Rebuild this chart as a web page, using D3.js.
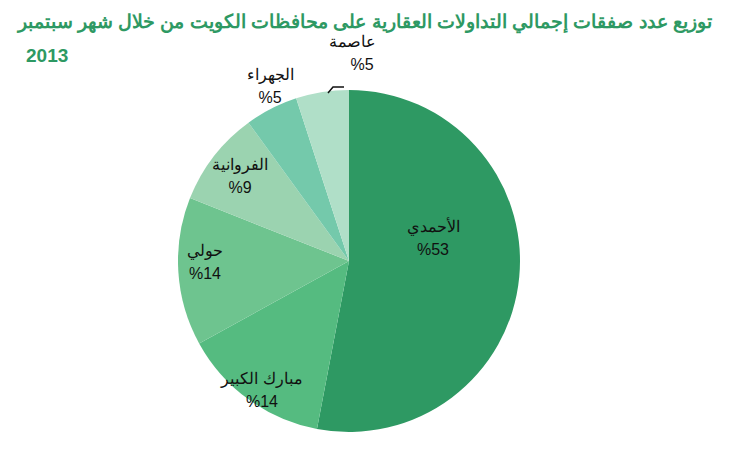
<!DOCTYPE html>
<html><head><meta charset="utf-8">
<script src="https://cdn.jsdelivr.net/npm/d3@7"></script>
<style>body{margin:0;background:#fff}</style></head>
<body><svg id="c" width="730" height="450"></svg>
<script>
const categories = ["الأحمدي","مبارك الكبير","حولي","الفروانية","الجهراء","عاصمة"];
const values = [53,14,14,9,5,5];
const colors = ["#2e9963","#55bb80","#6ec48f","#9bd3b0","#74c9ab","#b0dfc8"];
const labelPos = [[433,232],[262,384],[205,256],[240,170],[270,80],[352,47]];

const svg = d3.select("#c");
const cx=349, cy=261, r=171;
const pie = d3.pie().sort(null).value(d=>d)(values);
const arc = d3.arc().innerRadius(0).outerRadius(r);
const g = svg.append("g").attr("transform",`translate(${cx},${cy})`);
g.selectAll("path").data(pie).join("path").attr("d",arc).attr("fill",(d,i)=>colors[i]);

svg.append("text").attr("x",712).attr("y",28).attr("text-anchor","end")
  .attr("font-family","Liberation Sans, Arial").attr("font-weight","bold").attr("font-size",19)
  .attr("fill","#2e9963").text("توزيع عدد صفقات إجمالي التداولات العقارية على محافظات الكويت من خلال شهر سبتمبر");
svg.append("text").attr("x",26).attr("y",62)
  .attr("font-family","Liberation Sans, Arial").attr("font-weight","bold").attr("font-size",19)
  .attr("fill","#2e9963").text("2013");

categories.forEach((c,i)=>{
  const [x,y]=labelPos[i];
  svg.append("text").attr("x",x).attr("y",y).attr("text-anchor","middle")
    .attr("font-family","Liberation Sans, Arial").attr("font-size",16).attr("fill","#111").text(c);
  svg.append("text").attr("x",x + (i==5?10:0)).attr("y",y+23).attr("text-anchor","middle")
    .attr("font-family","Liberation Sans, Arial").attr("font-size",16).attr("fill","#111")
    .attr("direction","ltr").text("%"+values[i]);
});
svg.append("path").attr("d","M328,93 L333,87 L344,87").attr("fill","none").attr("stroke","#111").attr("stroke-width",1.5);
</script></body></html>
